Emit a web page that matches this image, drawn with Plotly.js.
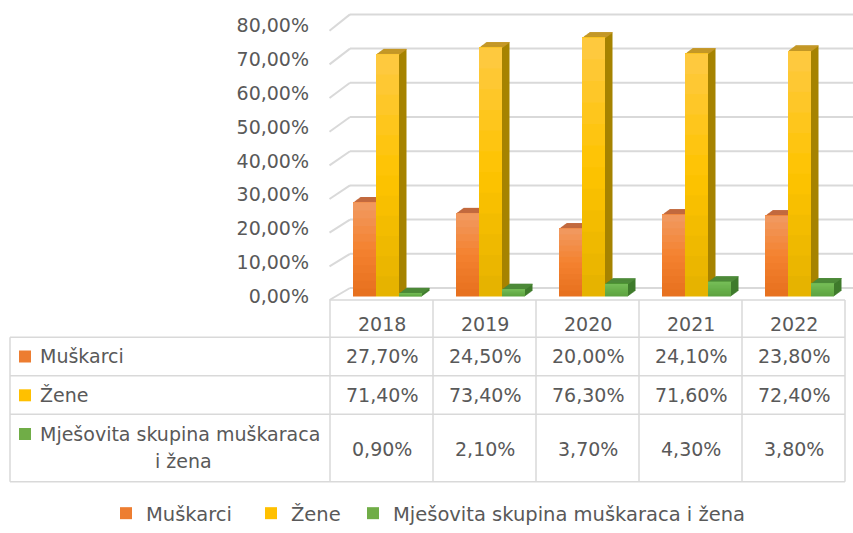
<!DOCTYPE html>
<html>
<head>
<meta charset="utf-8">
<script src="https://cdn.plot.ly/plotly-3.0.1.min.js"></script>
<style>html,body{margin:0;padding:0;background:#fff;}#chart{width:853px;height:533px;}</style>
</head>
<body>
<div id="chart"></div>
<script>
// ---------- DATA ----------
const categories = ['2018', '2019', '2020', '2021', '2022'];
const muskarci = [27.7, 24.5, 20.0, 24.1, 23.8];
const zene = [71.4, 73.4, 76.3, 71.6, 72.4];
const mjesovita = [0.9, 2.1, 3.7, 4.3, 3.8];
const seriesNames = ['Muškarci', 'Žene', 'Mješovita skupina muškaraca i žena'];
const tableLabels = ['Muškarci', 'Žene', 'Mješovita skupina muškaraca<br>i žena'];
const yTicks = [0, 10, 20, 30, 40, 50, 60, 70, 80];

// ---------- STYLE ----------
const FONT = 'DejaVu Sans';
const TXT = '#595959';
const GRID = '#d9d9d9';
const styles = [
  {main: '#ed7d31', top: '#f19a62', mid: '#f4822f', bot: '#e66f1d', side: '#b85d2a', cap: '#c46c42'},
  {main: '#ffc000', top: '#fec944', mid: '#fec400', bot: '#e4b100', side: '#a68300', cap: '#c99b2d'},
  {main: '#70ad47', top: '#76bd58', mid: '#68b04a', bot: '#5da241', side: '#3f7b2c', cap: '#4f8c3b'}
];
const seriesValues = [muskarci, zene, mjesovita];
const fmtPct = v => v.toFixed(2).replace('.', ',') + '%';

// geometry (pixels)
const W = 853, H = 533;
const plotL = 330, plotR = 853, plotT = 10, plotB = 300;
const colW = 103, firstCenter = 381.5;
const zeroPx = 296.5, pxPerUnit = 3.39;
const xp = px => (px - plotL) / (plotR - plotL);
const yp = py => (plotB - py) / (plotB - plotT);

const barW = 23 / colW;
const offsets = [-28.5 / colW, -5.5 / colW, 17.5 / colW];
const depthX = 7.5 / colW, depthY = 5.5 / pxPerUnit;
const LAYERS = 8, BANDS = 12;

function hex2rgb(h) { return [1, 3, 5].map(i => parseInt(h.substr(i, 2), 16)); }
function lerp(a, b, t) {
  const A = hex2rgb(a), B = hex2rgb(b);
  return 'rgb(' + A.map((v, i) => Math.round(v + (B[i] - v) * t)).join(',') + ')';
}

const traces = [];
// depth (side + top faces)
seriesValues.forEach((vals, i) => {
  const st = styles[i];
  for (let k = LAYERS; k >= 1; k--) {
    traces.push({
      type: 'bar', x: categories, y: vals,
      base: vals.map(() => k * depthY / LAYERS),
      offset: offsets[i] + k * depthX / LAYERS, width: barW,
      marker: {color: st.side, line: {width: 0}},
      showlegend: false, hoverinfo: 'skip'
    });
  }
});
seriesValues.forEach((vals, i) => {
  const st = styles[i];
  for (let k = 1; k <= LAYERS; k++) {
    traces.push({
      type: 'bar', x: categories, y: vals.map(() => depthY / LAYERS * 1.3),
      base: vals.map(v => v + (k - 1.15) * depthY / LAYERS),
      offset: offsets[i] + k * depthX / LAYERS, width: barW,
      marker: {color: st.cap, line: {width: 0}},
      showlegend: false, hoverinfo: 'skip'
    });
  }
});
// front faces with vertical gradient
seriesValues.forEach((vals, i) => {
  const st = styles[i];
  for (let j = 0; j < BANDS; j++) {
    const t = (j + 0.5) / BANDS;
    const c = t < 0.5 ? lerp(st.bot, st.mid, t / 0.5) : lerp(st.mid, st.top, (t - 0.5) / 0.5);
    traces.push({
      type: 'bar', x: categories,
      y: vals.map(v => v * (1 - j / BANDS)),
      base: vals.map(v => v * j / BANDS),
      offset: offsets[i], width: barW,
      marker: {color: c, line: {width: 0}},
      showlegend: false, hoverinfo: 'skip'
    });
  }
});
// legend entries
const legendIds = ['legend', 'legend2', 'legend3'];
seriesNames.forEach((n, i) => {
  traces.push({
    type: 'bar', x: categories, y: categories.map(() => null), name: n,
    marker: {color: styles[i].main, line: {width: 0}},
    legend: legendIds[i], showlegend: true, hoverinfo: 'skip'
  });
});

// ---------- SHAPES ----------
const shapes = [];
const frontPx = v => 300 - v * 3.366;
const backPx = v => 288 - v * 3.42;
yTicks.forEach(v => {
  const line = {color: GRID, width: 2};
  shapes.push({type: 'line', xref: 'paper', yref: 'paper', layer: 'below',
    x0: xp(329.5), y0: yp(frontPx(v)), x1: xp(350), y1: yp(backPx(v)), line});
  shapes.push({type: 'line', xref: 'paper', yref: 'paper', layer: 'below',
    x0: xp(350), y0: yp(backPx(v)), x1: xp(853), y1: yp(backPx(v)), line});
});
// data table grid
const tblLine = {color: GRID, width: 1.5};
const tblLeft = 10, tblRight = plotL + colW * categories.length;
const rowEdges = [300, 337.3, 375.7, 414.3, 481.7];
shapes.push({type: 'line', xref: 'paper', yref: 'paper', x0: xp(plotL), x1: xp(tblRight), y0: yp(rowEdges[0]), y1: yp(rowEdges[0]), line: tblLine});
for (let r = 1; r < rowEdges.length; r++) {
  shapes.push({type: 'line', xref: 'paper', yref: 'paper', x0: xp(tblLeft), x1: xp(tblRight), y0: yp(rowEdges[r]), y1: yp(rowEdges[r]), line: tblLine});
}
shapes.push({type: 'line', xref: 'paper', yref: 'paper', x0: xp(tblLeft), x1: xp(tblLeft), y0: yp(rowEdges[1]), y1: yp(rowEdges[4]), line: tblLine});
for (let c = 0; c <= categories.length; c++) {
  const px = plotL + c * colW;
  shapes.push({type: 'line', xref: 'paper', yref: 'paper', x0: xp(px), x1: xp(px), y0: yp(rowEdges[0]), y1: yp(rowEdges[4]), line: tblLine});
}

// ---------- ANNOTATIONS ----------
const annotations = [];
const tf = {family: FONT, size: 19, color: TXT};
const headerY = 324;
const rowTextY = [356.5, 395.3, 448.5];
categories.forEach((c, ci) => {
  annotations.push({xref: 'x', yref: 'paper', x: ci, y: yp(headerY), text: c, showarrow: false, font: tf, yanchor: 'middle'});
  seriesValues.forEach((vals, si) => {
    annotations.push({xref: 'x', yref: 'paper', x: ci, y: yp(rowTextY[si]),
      text: fmtPct(vals[ci]), showarrow: false, font: tf, yanchor: 'middle'});
  });
});
tableLabels.forEach((lab, si) => {
  const parts = lab.split('<br>');
  const firstY = parts.length > 1 ? 434 : rowTextY[si];
  annotations.push({xref: 'paper', yref: 'paper', x: xp(38), y: yp(firstY), text: parts[0],
    showarrow: false, font: tf, xanchor: 'left', yanchor: 'middle'});
  if (parts.length > 1) {
    annotations.push({xref: 'paper', yref: 'paper', x: xp(183), y: yp(461), text: parts[1],
      showarrow: false, font: tf, xanchor: 'center', yanchor: 'middle'});
  }
  shapes.push({type: 'rect', xref: 'paper', yref: 'paper', x0: xp(19), x1: xp(31),
    y0: yp(firstY - 6), y1: yp(firstY + 6), fillcolor: styles[si].main, line: {width: 0}});
});

const legendBase = {orientation: 'h', xref: 'container', yref: 'container', xanchor: 'left', yanchor: 'bottom',
  y: 0, font: {family: FONT, size: 19.5, color: TXT}, bgcolor: 'rgba(0,0,0,0)', borderwidth: 0};
const legendMarkerX = [121, 266, 368];

const layout = {
  width: W, height: H,
  margin: {l: plotL, r: W - plotR, t: plotT, b: H - plotB, pad: 0},
  paper_bgcolor: '#ffffff', plot_bgcolor: 'rgba(0,0,0,0)',
  barmode: 'overlay', separators: ', ',
  font: {family: FONT, size: 19, color: TXT},
  xaxis: {type: 'category', range: [(plotL - firstCenter) / colW, (plotR - firstCenter) / colW],
    showticklabels: false, showgrid: false, zeroline: false, showline: false, ticks: '', fixedrange: true},
  yaxis: {range: [(zeroPx - plotB) / pxPerUnit, (zeroPx - plotT) / pxPerUnit], tickvals: yTicks,
    ticktext: yTicks.map(fmtPct), showgrid: false, zeroline: false, showline: false, ticks: '',
    ticklabelstandoff: 20, ticklabelshift: 5.5, tickfont: {family: FONT, size: 19, color: TXT}, fixedrange: true},
  legend: Object.assign({}, legendBase, {x: (legendMarkerX[0] - 15) / W}),
  legend2: Object.assign({}, legendBase, {x: (legendMarkerX[1] - 15) / W}),
  legend3: Object.assign({}, legendBase, {x: (legendMarkerX[2] - 15) / W}),
  shapes: shapes,
  annotations: annotations
};

Plotly.newPlot('chart', traces, layout, {displayModeBar: false, staticPlot: true});
</script>
</body>
</html>
